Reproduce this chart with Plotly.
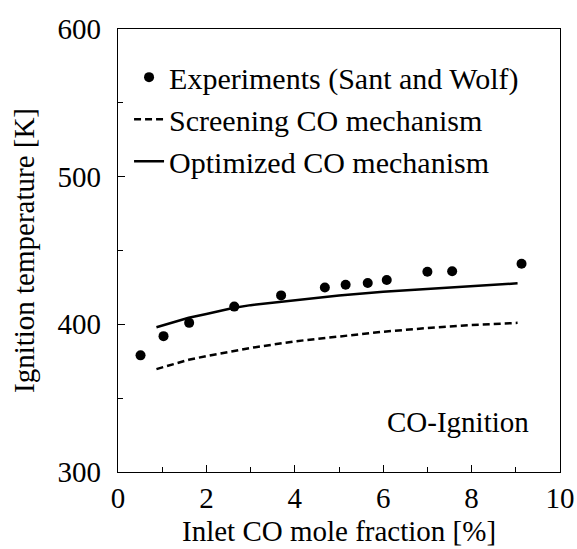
import plotly.graph_objects as go

exp_x = [0.51, 1.03, 1.61, 2.63, 3.69, 4.68, 5.15, 5.65, 6.08, 7.0, 7.56, 9.13]
exp_y = [379, 392, 401, 412, 419.6, 425, 426.8, 428, 430, 435.6, 436, 441]

mod_x = [0.87, 1.2, 1.6, 2.0, 2.6, 3.0, 4.0, 5.0, 6.0, 7.0, 8.0, 9.04]
opt_y = [398, 401, 404.5, 407, 411, 413, 416.5, 419.5, 422, 424, 426, 427.8]
scr_y = [369.7, 372.5, 376, 378.5, 382, 384, 388.5, 392, 395, 397.5, 399.5, 401]

font = "Liberation Serif"
fs = 29

fig = go.Figure()
fig.add_trace(go.Scatter(x=exp_x, y=exp_y, mode="markers",
                         marker=dict(color="black", size=10),
                         name="Experiments (Sant and Wolf)"))
fig.add_trace(go.Scatter(x=mod_x, y=scr_y, mode="lines",
                         line=dict(color="black", width=2.5, dash="7px,4px"),
                         name="Screening CO mechanism"))
fig.add_trace(go.Scatter(x=mod_x, y=opt_y, mode="lines",
                         line=dict(color="black", width=2.5),
                         name="Optimized CO mechanism"))

fig.add_annotation(x=9.35, y=334, text="CO-Ignition", showarrow=False,
                   xanchor="right", yanchor="middle",
                   font=dict(family=font, size=fs, color="black"))
fig.add_annotation(x=0.5, y=-0.134, xref="paper", yref="paper",
                   text="Inlet CO mole fraction [%]", showarrow=False,
                   xanchor="center", yanchor="middle",
                   font=dict(family=font, size=fs, color="black"))

axis_common = dict(showline=True, linecolor="black", linewidth=1.2, mirror=True,
                   ticks="inside", ticklen=7, tickcolor="black", showgrid=False,
                   zeroline=False, automargin=False,
                   tickfont=dict(family=font, size=fs, color="black"))

fig.update_xaxes(range=[0, 10], dtick=2, tick0=0,
                 minor=dict(ticks="inside", ticklen=5, dtick=1, tick0=0, tickcolor="black"),
                 **axis_common)
fig.update_yaxes(range=[300, 600], dtick=100, tick0=300, ticklabelstandoff=10,
                 title=dict(text="Ignition temperature [K]", font=dict(family=font, size=fs, color="black"), standoff=14),
                 minor=dict(ticks="inside", ticklen=5, dtick=50, tick0=300, tickcolor="black"),
                 **axis_common)

fig.update_layout(
    width=577, height=549,
    margin=dict(l=118, r=17, t=29, b=77),
    paper_bgcolor="white", plot_bgcolor="white",
    showlegend=True,
    legend=dict(x=0.025, y=0.95, xanchor="left", yanchor="top",
                bgcolor="rgba(0,0,0,0)",
                font=dict(family=font, size=30, color="black"),
                itemwidth=30, tracegroupgap=0),
)

fig.write_html("out.html")
